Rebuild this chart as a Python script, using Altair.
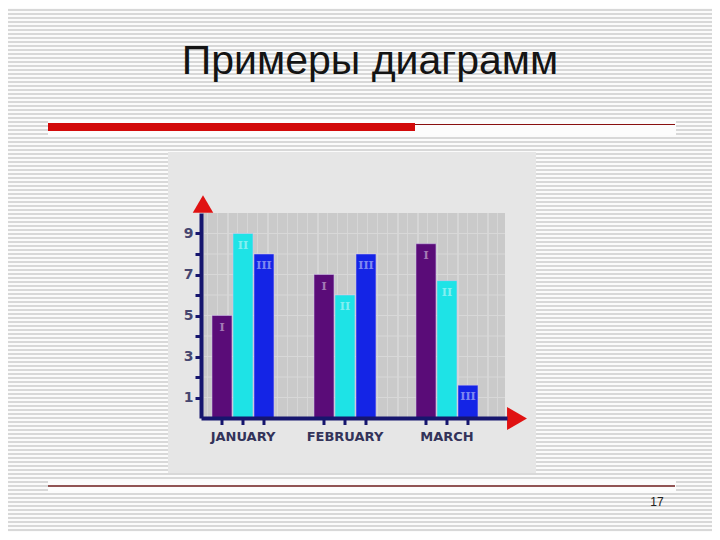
import altair as alt
import pandas as pd

# ---------------- data ----------------
months = ["January", "February", "March"]
series = ["I", "II", "III"]
values_I = [5, 7, 8.5]
values_II = [9, 6, 6.7]
values_III = [8, 8, 1.6]
y_ticks = [1, 2, 3, 4, 5, 6, 7, 8, 9]
series_colors = ["#5a0c78", "#1ee3e6", "#1424e6"]

title_text = "Примеры диаграмм"
page_number = "17"

rows = []
for i, m in enumerate(months):
    for s, vals in zip(series, [values_I, values_II, values_III]):
        rows.append({"month": m, "series": s, "value": vals[i]})
df = pd.DataFrame(rows)
grid_df = pd.DataFrame({"value": y_ticks})

# ---------------- layout helpers ----------------
OX, OY = 201, 213          # page position of the plot origin
W, H = 306, 205            # plot size
NAVY = "#16166e"
RED = "#e01212"


def px(x):
    return x - OX


def py(y):
    return y - OY


def stripe_gradient(length, period, on, c_on, c_off, horizontal, phase=0.0):
    stops = [alt.GradientStop(offset=0, color=c_off)]
    pos = phase
    while pos < length:
        a = max(pos, 0) / length
        b = min(pos + on, length) / length
        stops += [
            alt.GradientStop(offset=a, color=c_off),
            alt.GradientStop(offset=a, color=c_on),
            alt.GradientStop(offset=b, color=c_on),
            alt.GradientStop(offset=b, color=c_off),
        ]
        pos += period
    stops.append(alt.GradientStop(offset=1, color=c_off))
    if horizontal:
        return alt.LinearGradient(gradient="linear", stops=stops, x1=0, x2=1, y1=0, y2=0)
    return alt.LinearGradient(gradient="linear", stops=stops, x1=0, x2=0, y1=0, y2=1)


one = alt.Data(values=[{"a": 1}])


def rect(x1, x2, y1, y2, **kw):
    return alt.Chart(one).mark_rect(**kw).encode(
        x=alt.value(px(x1)), x2=alt.value(px(x2)),
        y=alt.value(py(y1)), y2=alt.value(py(y2)))


def hline(x1, x2, y, color, width):
    return alt.Chart(one).mark_rule(color=color, strokeWidth=width).encode(
        x=alt.value(px(x1)), x2=alt.value(px(x2)), y=alt.value(py(y)))


# ---------------- slide decoration ----------------
slide_bg = rect(8, 712, 8, 532,
                fill=stripe_gradient(524, 4, 2, "#d8d8d8", "#fbfbfb", False, 1))
white_top = rect(48, 676, 120, 135, fill="#fcfcfc")
white_bot = rect(48, 676, 481, 491, fill="#fcfcfc")
red_bar = rect(48, 415, 123, 131, fill="#d20a0a")
thin_line = hline(415, 675, 124.5, "#8a1010", 1)
bottom_line = hline(48, 675, 486, "#6e1c1c", 1.5)

title = alt.Chart(one).mark_text(
    text=title_text, font="Liberation Sans", fontSize=41, color="#141414",
    align="center", baseline="alphabetic"
).encode(x=alt.value(px(370)), y=alt.value(py(74)))

page_no = alt.Chart(one).mark_text(
    text=page_number, font="Liberation Sans", fontSize=12, color="#222222",
    align="center", baseline="middle"
).encode(x=alt.value(px(657)), y=alt.value(py(502)))

# ---------------- picture frame ----------------
img_box = rect(168, 536, 152, 473, fill="#e6e6e6")
gray_area = rect(203, 505, 213, 418,
                 fill=stripe_gradient(302, 10, 1.5, "#d6d6d6", "#cacaca", True, 4))

# ---------------- chart encodings ----------------
x_enc = alt.X(
    "month:N", sort=months,
    scale=alt.Scale(domain=months, paddingInner=0, paddingOuter=0),
    axis=alt.Axis(title=None, ticks=False, grid=False, domainColor=NAVY,
                  domainWidth=4, labelExpr="upper(datum.label)", labelAngle=0,
                  labelOffset=-9, labelPadding=12, labelFont="DejaVu Sans",
                  labelFontWeight="bold", labelFontSize=13, labelColor="#33335a",
                  zindex=1))
xo_enc = alt.XOffset(
    "series:N", sort=series,
    scale=alt.Scale(domain=series, paddingInner=0.05, paddingOuter=0.954, align=0.275))
y_enc = alt.Y(
    "value:Q",
    scale=alt.Scale(domain=[0, 10], nice=False, zero=True),
    axis=alt.Axis(values=y_ticks, title=None, grid=False,
                  labelExpr="datum.value % 2 == 1 ? datum.label : ''",
                  domainColor=NAVY, domainWidth=4, tickColor=NAVY, tickWidth=3,
                  tickSize=6, labelFont="DejaVu Sans", labelFontWeight="bold",
                  labelFontSize=14, labelColor="#464670", labelPadding=2,
                  zindex=1))

grid = alt.Chart(grid_df).mark_rule(color="#d8d8d8", strokeWidth=1).encode(
    y=y_enc, x=alt.value(px(204)), x2=alt.value(px(505)))

bars = alt.Chart(df).mark_bar(stroke="#d4c4f2", strokeWidth=1, strokeOpacity=0.5).encode(
    x=x_enc, xOffset=xo_enc, y=y_enc,
    color=alt.Color("series:N", sort=series,
                    scale=alt.Scale(domain=series, range=series_colors),
                    legend=None))

bar_labels = alt.Chart(df).mark_text(
    font="DejaVu Serif", fontWeight="bold", fontSize=11, color="#ffffff",
    opacity=0.45, baseline="middle", dy=12
).encode(x=x_enc, xOffset=xo_enc, y=y_enc, text="series:N")

x_ticks = alt.Chart(df).mark_rule(color=NAVY, strokeWidth=3).encode(
    x=x_enc, xOffset=xo_enc, y=alt.value(H), y2=alt.value(H + 7))

arrow_up = alt.Chart(one).mark_point(
    shape="triangle-up", filled=True, size=420, color=RED, opacity=1
).encode(x=alt.value(px(203)), y=alt.value(py(204)))

arrow_right = alt.Chart(one).mark_point(
    shape="triangle-right", filled=True, size=529, color=RED, opacity=1
).encode(x=alt.value(px(517)), y=alt.value(py(418.5)))

chart = alt.layer(
    slide_bg, white_top, white_bot, red_bar, thin_line, bottom_line, title, page_no,
    img_box, gray_area, grid, bars, bar_labels, x_ticks, arrow_up, arrow_right
).properties(
    width=W, height=H,
    autosize=alt.AutoSizeParams(type="none"),
    padding={"left": OX - 8, "top": OY - 8, "right": 712 - (OX + W), "bottom": 532 - (OY + H)},
    background="white",
).configure_view(stroke=None)

chart.save("out.html", embed_options={"renderer": "svg", "actions": False})
